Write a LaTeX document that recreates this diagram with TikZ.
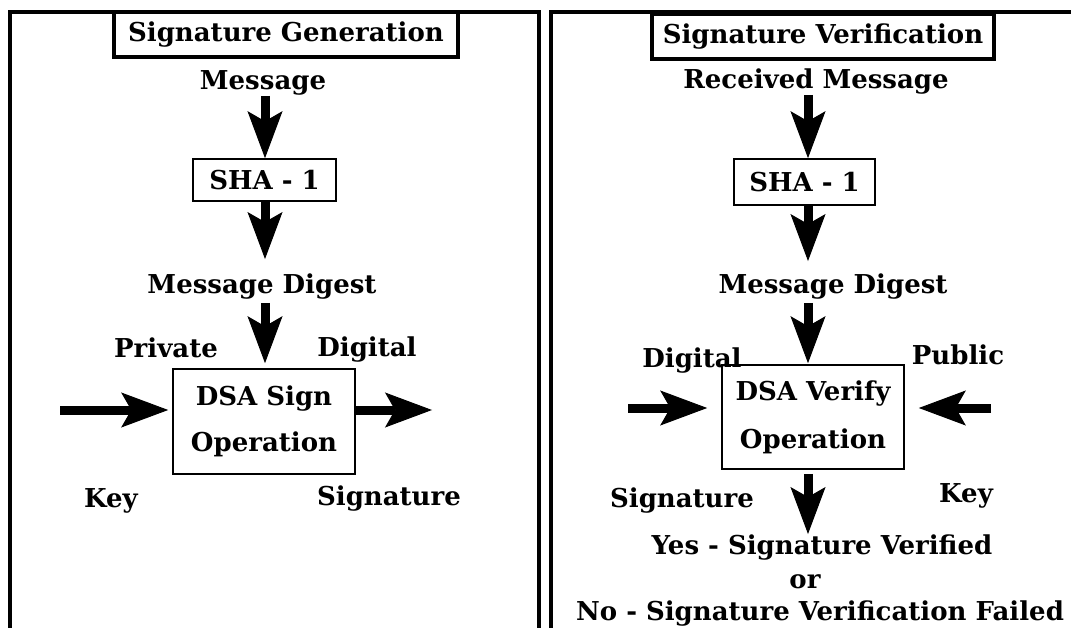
\documentclass[tikz,border=0pt]{standalone}
\usepackage{fontspec}
\setmainfont{DejaVu Serif}
\usetikzlibrary{arrows.meta}

\tikzset{
  lbl/.style={font=\fontsize{26}{30}\selectfont\bfseries, inner sep=0pt, anchor=base},
  titlebox/.style={font=\fontsize{26}{30}\selectfont\bfseries, draw, line width=4pt, inner sep=0pt, minimum height=45pt},
  opbox/.style={font=\fontsize{26}{30}\selectfont\bfseries, draw, line width=1.6pt, inner sep=0pt, align=center},
  panel/.style={line width=4pt},
  bigarrow/.style={line width=9pt, -{Stealth[length=47pt,width=35pt,inset=10pt,line width=1pt]}}
}

\begin{document}
\begin{tikzpicture}[x=1pt,y=-1pt]
        \useasboundingbox (0,0) rectangle (1071,628);
        % Generation
        \draw[panel] (10,628) -- (10,12) -- (539,12) -- (539,628);
        \draw (286,34.5) node[titlebox,minimum width=344pt](genT) {Signature Generation};
        \draw (263,90) node[lbl](msgL) {Message};
        \draw (264.5,180) node[opbox,minimum width=143pt,minimum height=42pt](shaL) {SHA - 1};
        \draw (262,294) node[lbl](digL) {Message Digest};
        \draw (264,421.5) node[opbox,minimum width=182pt,minimum height=105pt](signL) {DSA Sign\\[16pt]Operation};
        \draw (166,357) node[lbl](privL) {Private};
        \draw (111,507) node[lbl](keyL) {Key};
        \draw (367,356) node[lbl](dsigL) {Digital};
        \draw (389,505) node[lbl](sigL) {Signature};
        \coordinate (colL) at (265,0);
        \coordinate (keyinL) at (60,410);
        \coordinate (sigoutL) at (432,410);
        \draw[bigarrow] (msgL.south -| colL) -- (shaL.north -| colL);
        \draw[bigarrow,shorten >=15pt] (shaL.south -| colL) -- (digL.north -| colL);
        \draw[bigarrow,shorten <=3pt,shorten >=5pt] (digL.south -| colL) -- (signL.north -| colL);
        \draw[bigarrow,shorten >=4pt] (keyinL) -- (keyinL -| signL.west);
        \draw[bigarrow] (sigoutL -| signL.east) -- (sigoutL);
        % Verification
        \draw[panel] (551,628) -- (551,12) -- (1071,12);
        \draw (823,36.5) node[titlebox,minimum width=342pt](verT) {Signature Verification};
        \draw (816,89) node[lbl](recvR) {Received Message};
        \draw (804.5,182) node[opbox,minimum width=141pt,minimum height=46pt](shaR) {SHA - 1};
        \draw (833,294) node[lbl](digR) {Message Digest};
        \draw (813,417) node[opbox,minimum width=182pt,minimum height=104pt](verR) {DSA Verify\\[18pt]Operation};
        \draw (692,367) node[lbl](dsigR) {Digital};
        \draw (682,507) node[lbl](sigR) {Signature};
        \draw (958,364) node[lbl](pubR) {Public};
        \draw (966,502) node[lbl](keyR) {Key};
        \draw (822,554) node[lbl](yesR) {Yes - Signature Verified};
        \draw (805,588) node[lbl](orR) {or};
        \draw (820,620) node[lbl](noR) {No - Signature Verification Failed};
        \coordinate (colR) at (808,0);
        \coordinate (siginR) at (628,408);
        \coordinate (keyinR) at (991,408);
        \draw[bigarrow] (recvR.south -| colR) -- (shaR.north -| colR);
        \draw[bigarrow,shorten >=13pt] (shaR.south -| colR) -- (digR.north -| colR);
        \draw[bigarrow,shorten <=3pt,shorten >=1pt] (digR.south -| colR) -- (verR.north -| colR);
        \draw[bigarrow,shorten >=14pt] (siginR) -- (siginR -| verR.west);
        \draw[bigarrow,shorten >=14pt] (keyinR) -- (keyinR -| verR.east);
        \draw[bigarrow,shorten <=4pt] (verR.south -| colR) -- (yesR.north -| colR);
    \end{tikzpicture}
\end{document}
